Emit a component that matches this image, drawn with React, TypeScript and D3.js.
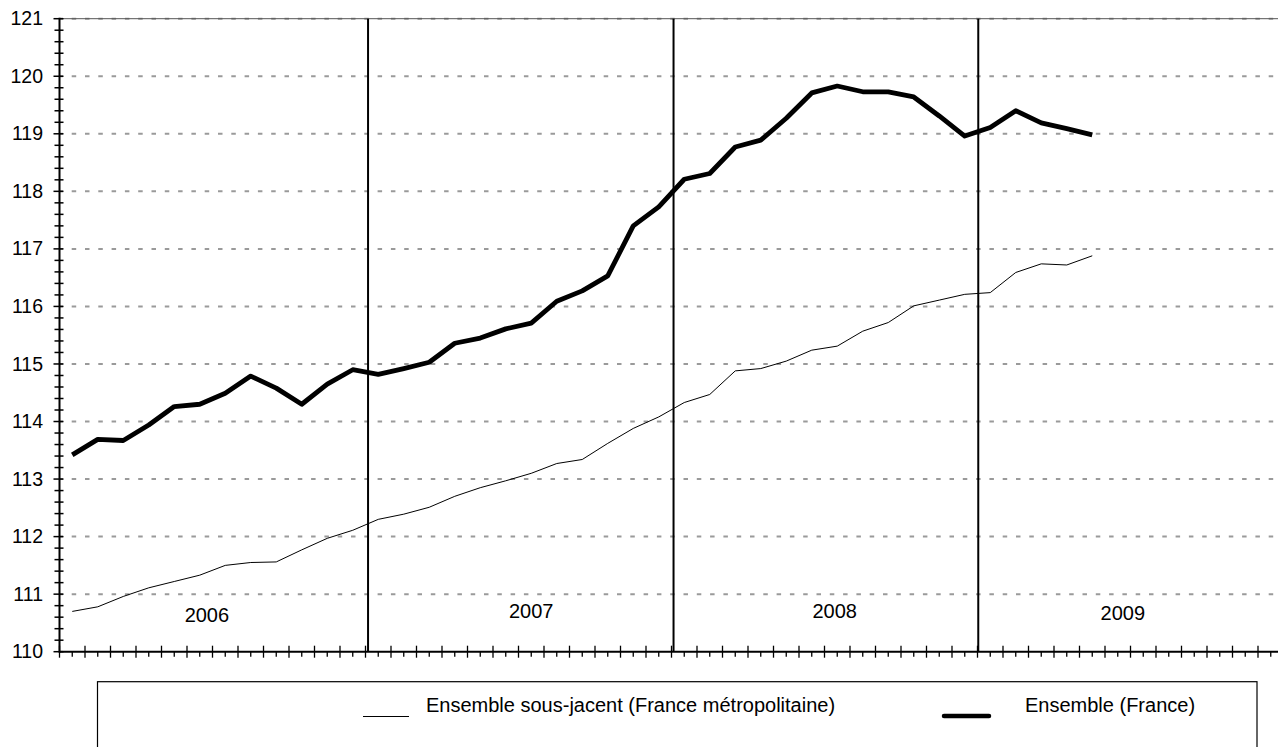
import { useEffect, useRef } from "react"
import * as d3 from "d3"

// Monthly index values, Jan 2006 .. May 2009
const months = d3.range(41)

const ensembleFrance = [
  113.42, 113.69, 113.67, 113.94, 114.26, 114.3, 114.49, 114.79, 114.58, 114.3, 114.65, 114.9,
  114.82, 114.92, 115.03, 115.36, 115.45, 115.61, 115.71, 116.09, 116.27, 116.53, 117.4, 117.73,
  118.21, 118.31, 118.77, 118.89, 119.27, 119.71, 119.83, 119.73, 119.73, 119.64, 119.31, 118.96,
  119.11, 119.4, 119.19, 119.09, 118.98,
]

const sousJacent = [
  110.7, 110.78, 110.96, 111.11, 111.22, 111.33, 111.5, 111.55, 111.56, 111.77, 111.97, 112.11,
  112.3, 112.39, 112.51, 112.7, 112.85, 112.97, 113.1, 113.27, 113.34, 113.62, 113.88, 114.08,
  114.33, 114.47, 114.88, 114.92, 115.05, 115.24, 115.31, 115.57, 115.72, 116.01, 116.11, 116.21,
  116.24, 116.59, 116.74, 116.72, 116.88,
]

const yTicks = d3.range(110, 122)
const years = ["2006", "2007", "2008", "2009"]
// label anchor (category position, value) for each year text
const yearLabelPos = [5.78, 18.5, 30.4, 41.7]
const yearLabelVal = [110.63, 110.71, 110.71, 110.67]
// separators between years, in category units
const yearSeparators = [12.1, 24.08, 36.03]

const FONT = "'Liberation Sans', Arial, Helvetica, sans-serif"

export default function App() {
  const svgRef = useRef<SVGSVGElement>(null)

  useEffect(() => {
    if (!svgRef.current) return
    const W = 1278
    const H = 747

    d3.select(svgRef.current).selectAll("*").remove()
    const svg = d3.select(svgRef.current).attr("width", W).attr("height", H)

    const nCat = 48
    const x0 = 59.5
    const catW = 25.5
    const x = d3.scaleLinear().domain([0, nCat]).range([x0, x0 + nCat * catW])
    const y = d3.scaleLinear().domain([110, 121]).range([651.7, 18.7])

    // grid
    svg
      .append("g")
      .selectAll("line")
      .data(yTicks.filter((d) => d > 110))
      .join("line")
      .attr("x1", x(0))
      .attr("x2", W)
      .attr("y1", (d) => y(d))
      .attr("y2", (d) => y(d))
      .style("stroke", "#9a9a9a")
      .style("stroke-width", 2)
      .style("stroke-dasharray", "4.5 8.8")
      .style("stroke-dashoffset", 1.1)

    // top border
    svg
      .append("line")
      .attr("x1", x(0))
      .attr("x2", W)
      .attr("y1", y(121))
      .attr("y2", y(121))
      .style("stroke", "#555")
      .style("stroke-width", 1)

    // year separators
    svg
      .append("g")
      .selectAll("line")
      .data(yearSeparators)
      .join("line")
      .attr("x1", (d) => x(d))
      .attr("x2", (d) => x(d))
      .attr("y1", y(121))
      .attr("y2", y(110))
      .style("stroke", "#000")
      .style("stroke-width", 2)

    // series
    const line = d3
      .line<number>()
      .x((_, i) => x(months[i] + 0.5))
      .y((d) => y(d))

    svg
      .append("path")
      .datum(sousJacent)
      .attr("d", line)
      .style("fill", "none")
      .style("stroke", "#000")
      .style("stroke-width", 1)

    svg
      .append("path")
      .datum(ensembleFrance)
      .attr("d", line)
      .style("fill", "none")
      .style("stroke", "#000")
      .style("stroke-width", 4.8)
      .style("stroke-linejoin", "round")

    // y axis
    const minorY = d3.range(0, 56).map((i) => 110 + i * 0.2).filter((v) => Math.abs(v - Math.round(v)) > 0.01)
    svg
      .append("g")
      .selectAll("line")
      .data(minorY)
      .join("line")
      .attr("x1", x0 - 5)
      .attr("x2", x0 + 4)
      .attr("y1", (d) => y(d))
      .attr("y2", (d) => y(d))
      .style("stroke", "#000")
      .style("stroke-width", 1.5)
    svg
      .append("g")
      .selectAll("line")
      .data(yTicks)
      .join("line")
      .attr("x1", x0 - 6)
      .attr("x2", x0 + 4)
      .attr("y1", (d) => y(d))
      .attr("y2", (d) => y(d))
      .style("stroke", "#000")
      .style("stroke-width", 1.5)
    svg
      .append("g")
      .selectAll("text")
      .data(yTicks)
      .join("text")
      .attr("x", 43)
      .attr("y", (d) => y(d) + 6.6)
      .attr("text-anchor", "end")
      .style("font-family", FONT)
      .style("font-size", "19.5px")
      .text((d) => d)
    svg
      .append("line")
      .attr("x1", x0)
      .attr("x2", x0)
      .attr("y1", y(121) - 1)
      .attr("y2", y(110) + 1)
      .style("stroke", "#000")
      .style("stroke-width", 2)

    // x axis
    svg
      .append("line")
      .attr("x1", x0)
      .attr("x2", W)
      .attr("y1", y(110))
      .attr("y2", y(110))
      .style("stroke", "#000")
      .style("stroke-width", 2)
    svg
      .append("g")
      .selectAll("line")
      .data(d3.range(0, nCat + 1))
      .join("line")
      .attr("x1", (d) => x(d))
      .attr("x2", (d) => x(d))
      .attr("y1", y(110) - 6)
      .attr("y2", y(110) + 6)
      .style("stroke", "#000")
      .style("stroke-width", 1.3)
    svg
      .append("g")
      .selectAll("line")
      .data(d3.range(0, nCat).map((d) => d + 0.5))
      .join("line")
      .attr("x1", (d) => x(d))
      .attr("x2", (d) => x(d))
      .attr("y1", y(110))
      .attr("y2", y(110) + 5)
      .style("stroke", "#000")
      .style("stroke-width", 1.3)

    // year labels
    svg
      .append("g")
      .selectAll("text")
      .data(years)
      .join("text")
      .attr("x", (_, i) => x(yearLabelPos[i]))
      .attr("y", (_, i) => y(yearLabelVal[i]) + 7)
      .attr("text-anchor", "middle")
      .style("font-family", FONT)
      .style("font-size", "20px")
      .text((d) => d)

    // legend
    const lg = svg.append("g")
    lg.append("rect")
      .attr("x", 97.5)
      .attr("y", 681.7)
      .attr("width", 1159.5)
      .attr("height", 120)
      .style("fill", "none")
      .style("stroke", "#000")
      .style("stroke-width", 1.2)
    lg.append("line")
      .attr("x1", 363)
      .attr("x2", 409)
      .attr("y1", 716.5)
      .attr("y2", 716.5)
      .style("stroke", "#000")
      .style("stroke-width", 1)
    lg.append("text")
      .attr("x", 426)
      .attr("y", 711.7)
      .style("font-family", FONT)
      .style("font-size", "20px")
      .text("Ensemble sous-jacent (France métropolitaine)")
    lg.append("line")
      .attr("x1", 944)
      .attr("x2", 989)
      .attr("y1", 716)
      .attr("y2", 716)
      .style("stroke", "#000")
      .style("stroke-width", 4.5)
      .style("stroke-linecap", "round")
    lg.append("text")
      .attr("x", 1025)
      .attr("y", 711.7)
      .style("font-family", FONT)
      .style("font-size", "20px")
      .text("Ensemble (France)")
  }, [])

  return (
    <svg
      ref={svgRef}
      style={{ position: "absolute", left: 0, top: 0, display: "block", background: "#fff" }}
    ></svg>
  )
}
